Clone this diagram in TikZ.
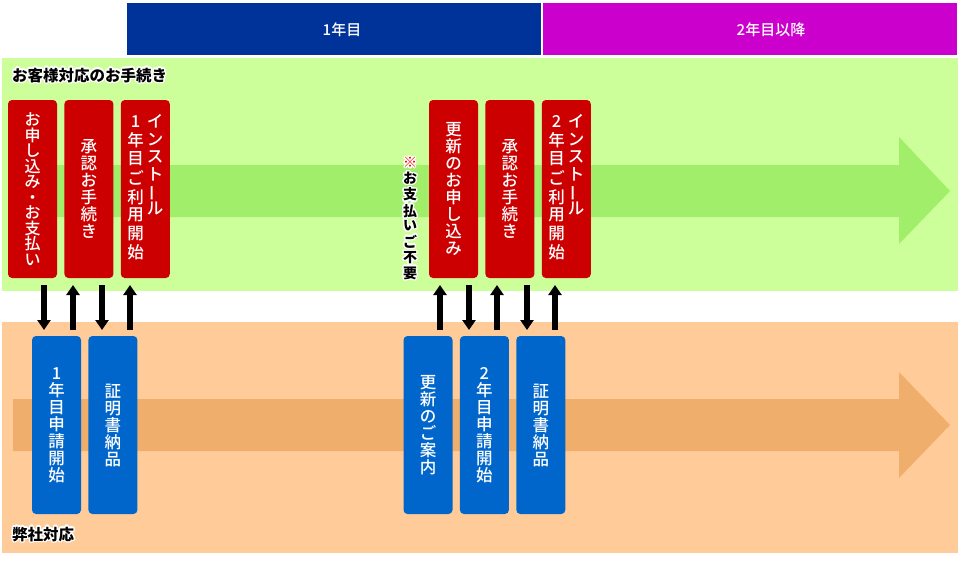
\documentclass[tikz,border=0pt]{standalone}
\usepackage{fontspec}
\setmainfont{Noto Sans CJK JP}
\newfontfamily\cardfont{Noto Sans CJK JP Medium}
\usepackage{contour}
\contourlength{1.4pt}
\usetikzlibrary{positioning,arrows.meta}

\definecolor{headblue}{HTML}{003399}
\definecolor{headmag}{HTML}{CC00CC}
\definecolor{bandgreen}{HTML}{CCFF99}
\definecolor{arrowgreen}{HTML}{A0EE6A}
\definecolor{bandorange}{HTML}{FFCC99}
\definecolor{arroworange}{HTML}{F0AE6C}
\definecolor{boxred}{HTML}{CC0000}
\definecolor{boxblue}{HTML}{0066CC}

% vertical writing helpers
\newcommand\vbar{\rotatebox[origin=c]{90}{ー}}
\newcommand\vcol[1]{\begin{tabular}[t]{@{}c@{}}#1\end{tabular}}
\newcommand\halo[1]{\contour{white}{#1}}

\begin{document}
\begin{tikzpicture}[
    x=1pt, y=-1pt,
    stepcard/.style={rectangle, rounded corners=4pt, minimum width=49pt, minimum height=178pt, inner sep=0pt, text=white, align=center, font=\cardfont\fontsize{16.5}{17}\selectfont},
    redbox/.style={stepcard, fill=boxred},
    bluebox/.style={stepcard, fill=boxblue},
    yearbar/.style={rectangle, minimum width=414pt, minimum height=52pt, inner sep=0pt},
    yeartext/.style={text=white, inner sep=0pt, font=\cardfont\fontsize{15}{16}\selectfont},
    bandlabel/.style={anchor=west, inner sep=0pt, font=\fontsize{15.5}{18}\selectfont\bfseries},
    flow/.style={line width=5.5pt, -{Triangle[width=13pt,length=10pt]}}
]
    \useasboundingbox (0,0) rectangle (960,560);

    % Year header
    \node [yearbar, fill=headblue] (year1) at (334,29) {};
    \node [yearbar, fill=headmag] (year2) at (750,29) {};
    \node [yeartext] (year1txt) at (342,30) {1年目};
    \node [yeartext] (year2txt) at (771,30) {2年目以降};

    % Bands with flow arrows
    \fill [bandgreen] (2,58) rectangle (958,291);
    \fill [arrowgreen] (13,165) -- (899,165) -- (899,137) -- (950,191) -- (899,244) -- (899,217) -- (13,217) -- cycle;
    \fill [bandorange] (2,322) rectangle (958,553);
    \fill [arroworange] (13,399) -- (899,399) -- (899,372) -- (950,425) -- (899,478) -- (899,451) -- (13,451) -- cycle;

    \node [bandlabel] (custlabel) at (12,76) {\halo{お客様対応のお手続き}};
    \node [bandlabel] (ourlabel) at (12,535) {\halo{弊社対応}};

    % Customer steps, first year
    \node [redbox, font=\cardfont\fontsize{16}{15.5}\selectfont] (apply) at (32.5,189) {お\\申\\し\\込\\み\\・\\お\\支\\払\\い};
    \node [redbox, right=7pt of apply] (approve1) {承\\認\\お\\手\\続\\き};
    \node [redbox, right=7pt of approve1] (install1) {\vcol{1\\年\\目\\ご\\利\\用\\開\\始}\hspace{3pt}\vcol{イ\\ン\\ス\\ト\\\vbar\\ル}};

    % Customer steps, renewal
    \node [redbox] (renew) at (453.5,189) {更\\新\\の\\お\\申\\し\\込\\み};
    \node [redbox, right=7pt of renew] (approve2) {承\\認\\お\\手\\続\\き};
    \node [redbox, right=7pt of approve2] (install2) {\vcol{2\\年\\目\\ご\\利\\用\\開\\始}\hspace{3pt}\vcol{イ\\ン\\ス\\ト\\\vbar\\ル}};

    \node [inner sep=0pt, font=\fontsize{14}{14.4}\selectfont\bfseries] (nopay) at (410,220)
        {\vcol{\textcolor{red}{\halo{※}}\\\halo{お}\\\halo{支}\\\halo{払}\\\halo{い}\\\halo{ご}\\\halo{不}\\\halo{要}}};

    % Our steps
    \node [bluebox] (start1) at (56.5,425) {1\\年\\目\\申\\請\\開\\始};
    \node [bluebox, right=7pt of start1] (cert1) {証\\明\\書\\納\\品};
    \node [bluebox] (notice) at (428,425) {更\\新\\の\\ご\\案\\内};
    \node [bluebox, right=7pt of notice] (start2) {2\\年\\目\\申\\請\\開\\始};
    \node [bluebox, right=7pt of start2] (cert2) {証\\明\\書\\納\\品};

    % Exchange arrows
    \foreach \n/\x in {a/44,b/73,c/102,d/130,e/440,f/469,g/497,h/527,i/555} {
        \coordinate (\n top) at (\x,285);
        \coordinate (\n bot) at (\x,330);
    }
    \draw [flow] (atop) -- (abot);
    \draw [flow] (bbot) -- (btop);
    \draw [flow] (ctop) -- (cbot);
    \draw [flow] (dbot) -- (dtop);
    \draw [flow] (ebot) -- (etop);
    \draw [flow] (ftop) -- (fbot);
    \draw [flow] (gbot) -- (gtop);
    \draw [flow] (htop) -- (hbot);
    \draw [flow] (ibot) -- (itop);
\end{tikzpicture}
\end{document}
